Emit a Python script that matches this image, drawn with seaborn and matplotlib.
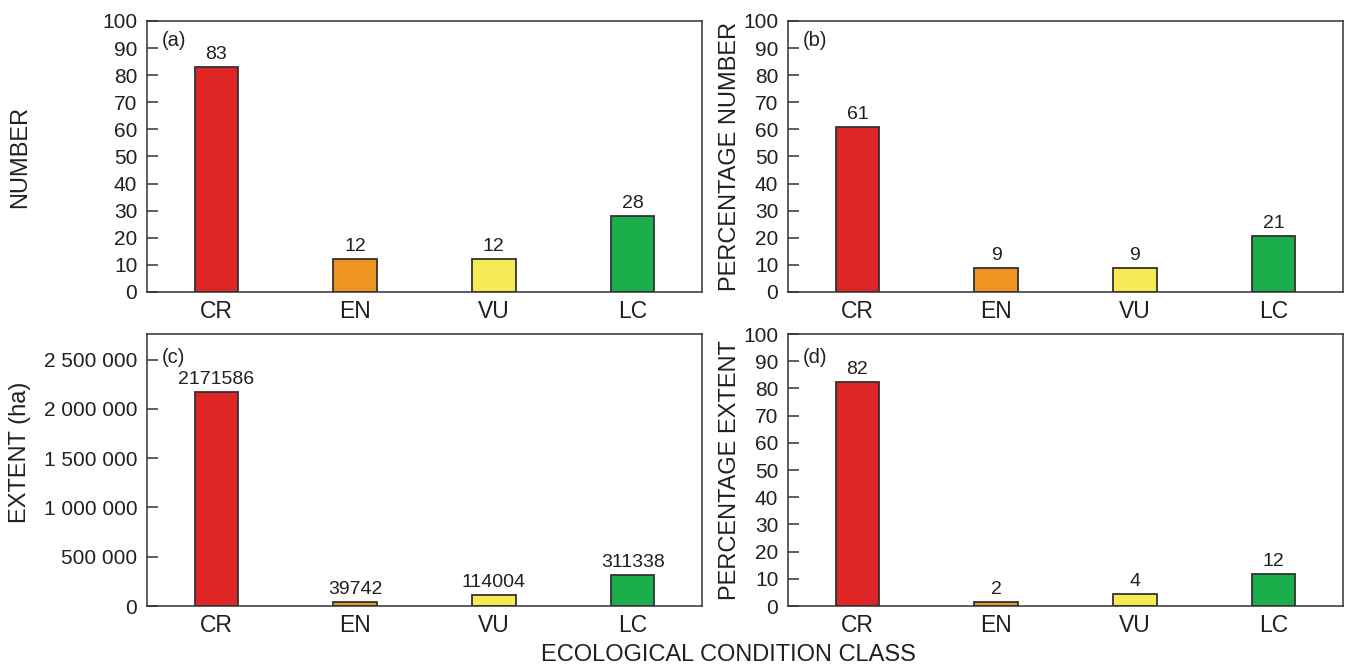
import matplotlib
matplotlib.use("Agg")
import matplotlib.pyplot as plt
import matplotlib.ticker as mticker
import pandas as pd
import seaborn as sns

# data
categories = ["CR", "EN", "VU", "LC"]
number = [83, 12, 12, 28]
pct_number = [61.0, 8.8, 8.8, 20.6]
extent = [2171586, 39742, 114004, 311338]
pct_extent = [82.4, 1.5, 4.3, 11.8]
colors = ["#de2627", "#ee9421", "#f6ea55", "#1baf4b"]

sns.set_style("white")
plt.rcParams["font.family"] = ["Liberation Sans", "DejaVu Sans"]
txt = "#231f20"
plt.rcParams["text.color"] = txt
plt.rcParams["axes.labelcolor"] = txt
plt.rcParams["xtick.color"] = txt
plt.rcParams["ytick.color"] = txt

fig = plt.figure(figsize=(13.46, 6.64), dpi=100)
W, H = 1346, 664


def rect(l, t, r, b):
    return [l / W, 1 - b / H, (r - l) / W, (b - t) / H]


panels = [
    # values, ylabel, tag, ylim, yticks, label pos, rect, fmt, tag y
    (number, "NUMBER", "(a)", 100, range(0, 101, 10), (-0.228, 0.5), rect(147, 21, 702, 292), "%.0f", 0.908),
    (pct_number, "PERCENTAGE NUMBER", "(b)", 100, range(0, 101, 10), (-0.1045, 0.5), rect(788, 21, 1343, 292), "%.0f", 0.908),
    (extent, "EXTENT (ha)", "(c)", 2760000, range(0, 2500001, 500000), (-0.228, 0.564), rect(147, 334, 702, 606), "%d", 0.895),
    (pct_extent, "PERCENTAGE EXTENT", "(d)", 100, range(0, 101, 10), (-0.1045, 0.5), rect(788, 334, 1343, 606), "%.0f", 0.895),
]

for vals, ylab, tag, ytop, yt, lpos, r, fmt, tagy in panels:
    ax = fig.add_axes(r)
    df = pd.DataFrame({"cls": categories, "val": vals})
    sns.barplot(data=df, x="cls", y="val", hue="cls", palette=colors,
                saturation=1, legend=False, errorbar=None, width=0.315,
                edgecolor="#333333", linewidth=1.3, ax=ax)
    for c in ax.containers:
        ax.bar_label(c, fmt=fmt, padding=3, fontsize=14, color=txt)
    ax.set_xlim(-0.5, 3.5)
    ax.set_ylim(0, ytop)
    ax.set_yticks(list(yt))
    ax.yaxis.set_major_formatter(
        mticker.FuncFormatter(lambda v, p: f"{int(v):,}".replace(",", " ")))
    ax.set_xticks([0.5, 1.5, 2.5], minor=True)
    ax.tick_params(axis="x", which="major", length=0, labelsize=16.5, pad=6)
    ax.tick_params(axis="x", which="minor", direction="in", length=8,
                   width=1.1, color="#333333")
    ax.tick_params(axis="y", direction="in", length=8, width=1.1,
                   color="#333333", labelsize=15, pad=7, left=True)
    for s in ax.spines.values():
        s.set_visible(True)
        s.set_color("#333333")
        s.set_linewidth(1.1)
    ax.set_xlabel("")
    ax.set_ylabel(ylab, fontsize=17)
    ax.yaxis.label.set_va("center")
    ax.yaxis.set_label_coords(*lpos)
    ax.text(0.027, tagy, tag, transform=ax.transAxes, fontsize=14.5,
            va="baseline", ha="left")

fig.text(728 / W, 1 - 661 / H, "ECOLOGICAL CONDITION CLASS", fontsize=17,
         ha="center", va="baseline")

fig.savefig("out.png", dpi=100)
